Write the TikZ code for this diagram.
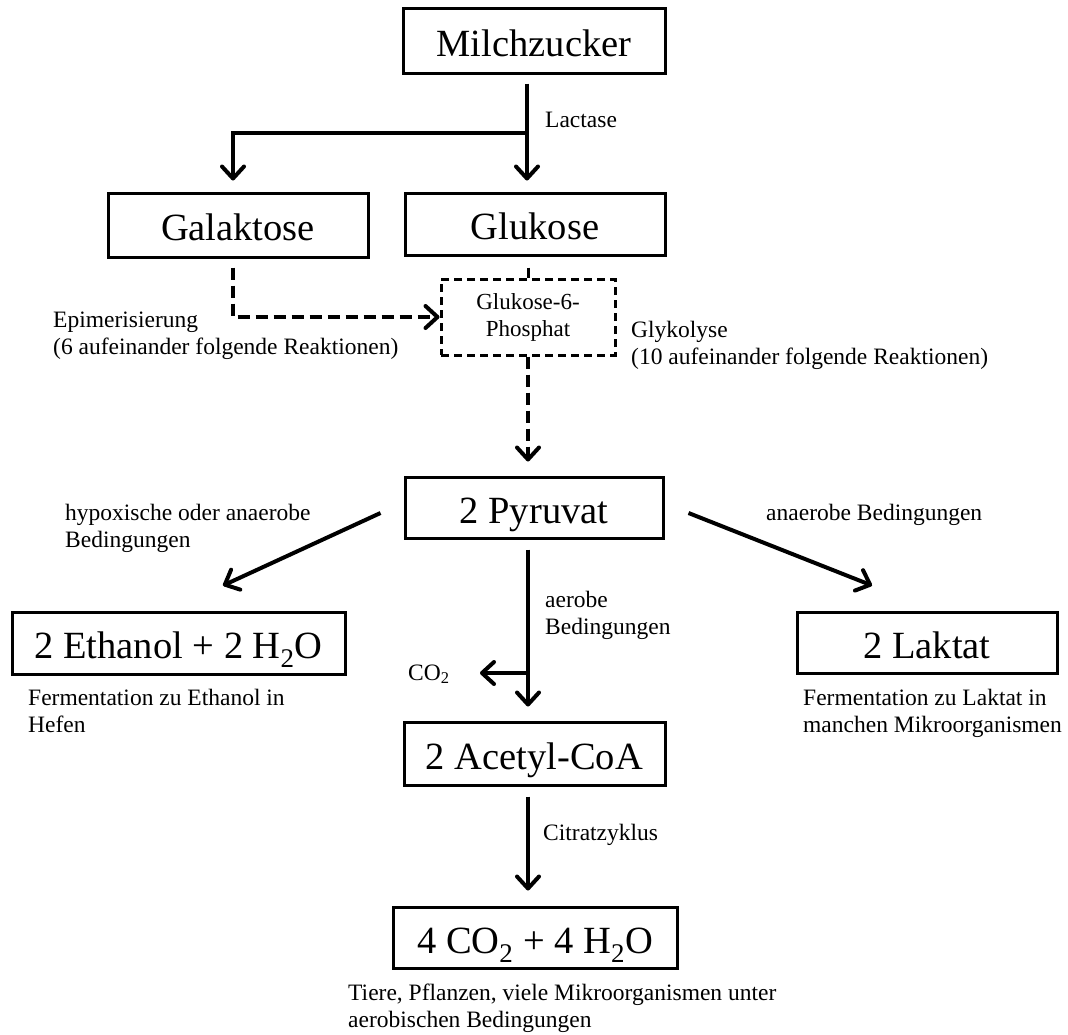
\documentclass[tikz,border=0pt]{standalone}
\usepackage{fontspec}
\setmainfont{Liberation Serif}
\usetikzlibrary{arrows.meta}
\newcommand\mylines[1]{\begin{tabular}[t]{@{}l@{}}#1\end{tabular}}
\begin{document}
\begin{tikzpicture}[x=1pt,y=-1pt,
  box/.style={draw, line width=3pt, inner sep=0pt, text height=33pt, text depth=2pt,
    font=\fontsize{38.5}{44}\selectfont},
  lbl/.style={inner sep=0pt, anchor=base west, font=\fontsize{23.5}{27}\selectfont},
  arr/.style={line width=4pt, -{Straight Barb[length=12pt,width=22pt,line cap=round,line join=round]}},
  darr/.style={arr, dash pattern=on 12pt off 6pt},
  dbox/.style={draw, line width=3pt, dash pattern=on 8pt off 5pt, inner sep=0pt,
    align=center, font=\fontsize{23}{27}\selectfont}]
\useasboundingbox (0,0) rectangle (1068,1034);
\fill[white] (0,0) rectangle (1068,1034);

% boxes
\node[box, minimum width=262pt, minimum height=65pt] (milch) at (534,40.5) {Milchzucker};
\node[box, minimum width=260pt, minimum height=64pt] (galak) at (238,225) {Galaktose};
\node[box, minimum width=260pt, minimum height=62pt] (glukose) at (535,224) {Glukose};
\node[dbox, minimum width=174pt, minimum height=76pt] (g6p) at (528,317) {Glukose-6-\\Phosphat};
\node[box, minimum width=258pt, minimum height=61pt] (pyr) at (534,507.5) {2 Pyruvat};
\node[box, minimum width=333pt, minimum height=62pt] (eth) at (178.5,643) {2 Ethanol + 2 H\textsubscript{2}O};
\node[box, minimum width=260pt, minimum height=61pt] (lakt) at (927,642.5) {2 Laktat};
\node[box, minimum width=261pt, minimum height=63pt] (acet) at (534.5,753.5) {2 Acetyl-CoA};
\node[box, minimum width=284pt, minimum height=61pt] (four) at (535,937.5) {4 CO\textsubscript{2} + 4 H\textsubscript{2}O};

% labels
\node[lbl] (lact) at (545,127) {Lactase};
\node[lbl] (epi) at (53,327) {\mylines{Epimerisierung\\(6 aufeinander folgende Reaktionen)}};
\node[lbl] (glyk) at (631,337) {\mylines{Glykolyse\\(10 aufeinander folgende Reaktionen)}};
\node[lbl] (hypox) at (65,520) {\mylines{hypoxische oder anaerobe\\Bedingungen}};
\node[lbl] (anaer) at (766,520) {anaerobe Bedingungen};
\node[lbl] (aer) at (545,607) {\mylines{aerobe\\Bedingungen}};
\node[lbl] (co2) at (408,680) {CO\textsubscript{2}};
\node[lbl] (citr) at (543,840) {Citratzyklus};
\node[lbl] (fermE) at (28,705) {\mylines{Fermentation zu Ethanol in\\Hefen}};
\node[lbl] (fermL) at (803,705) {\mylines{Fermentation zu Laktat in\\manchen Mikroorganismen}};
\node[lbl] (tiere) at (348,1000) {\mylines{Tiere, Pflanzen, viele Mikroorganismen unter\\aerobischen Bedingungen}};

% helper coordinates
\coordinate (col) at (527,0);
\coordinate (j) at (527,133);
\coordinate (br) at (528,673);
\coordinate (co2tip) at (480,673);

% connectors
\draw[arr] ([yshift=-9pt]milch.south -| col) -- ([yshift=11pt]glukose.north -| col);
\draw[arr] (j) -| ([xshift=-5pt,yshift=11pt]galak.north);
\draw[darr] ([xshift=-5pt,yshift=-9pt]galak.south) |- (g6p.west);
\draw[line width=3pt] ([yshift=-11pt]glukose.south -| g6p.north) -- (g6p.north);
\draw[darr] (g6p.south) -- ([yshift=14pt]pyr.north -| g6p.south);
\draw[arr] ([xshift=-23pt,yshift=-5.5pt]pyr.west) -- ([xshift=44.5pt,yshift=25pt]eth.north);
\draw[arr] ([xshift=24pt,yshift=-5.5pt]pyr.east) -- ([xshift=-55pt,yshift=25pt]lakt.north);
\draw[arr] ([yshift=-10pt]pyr.south -| g6p.south) -- ([yshift=14pt]acet.north -| g6p.south);
\draw[arr] (br) -- (co2tip);
\draw[arr] ([yshift=-10pt]acet.south -| g6p.south) -- ([yshift=15pt]four.north -| g6p.south);
\end{tikzpicture}
\end{document}
